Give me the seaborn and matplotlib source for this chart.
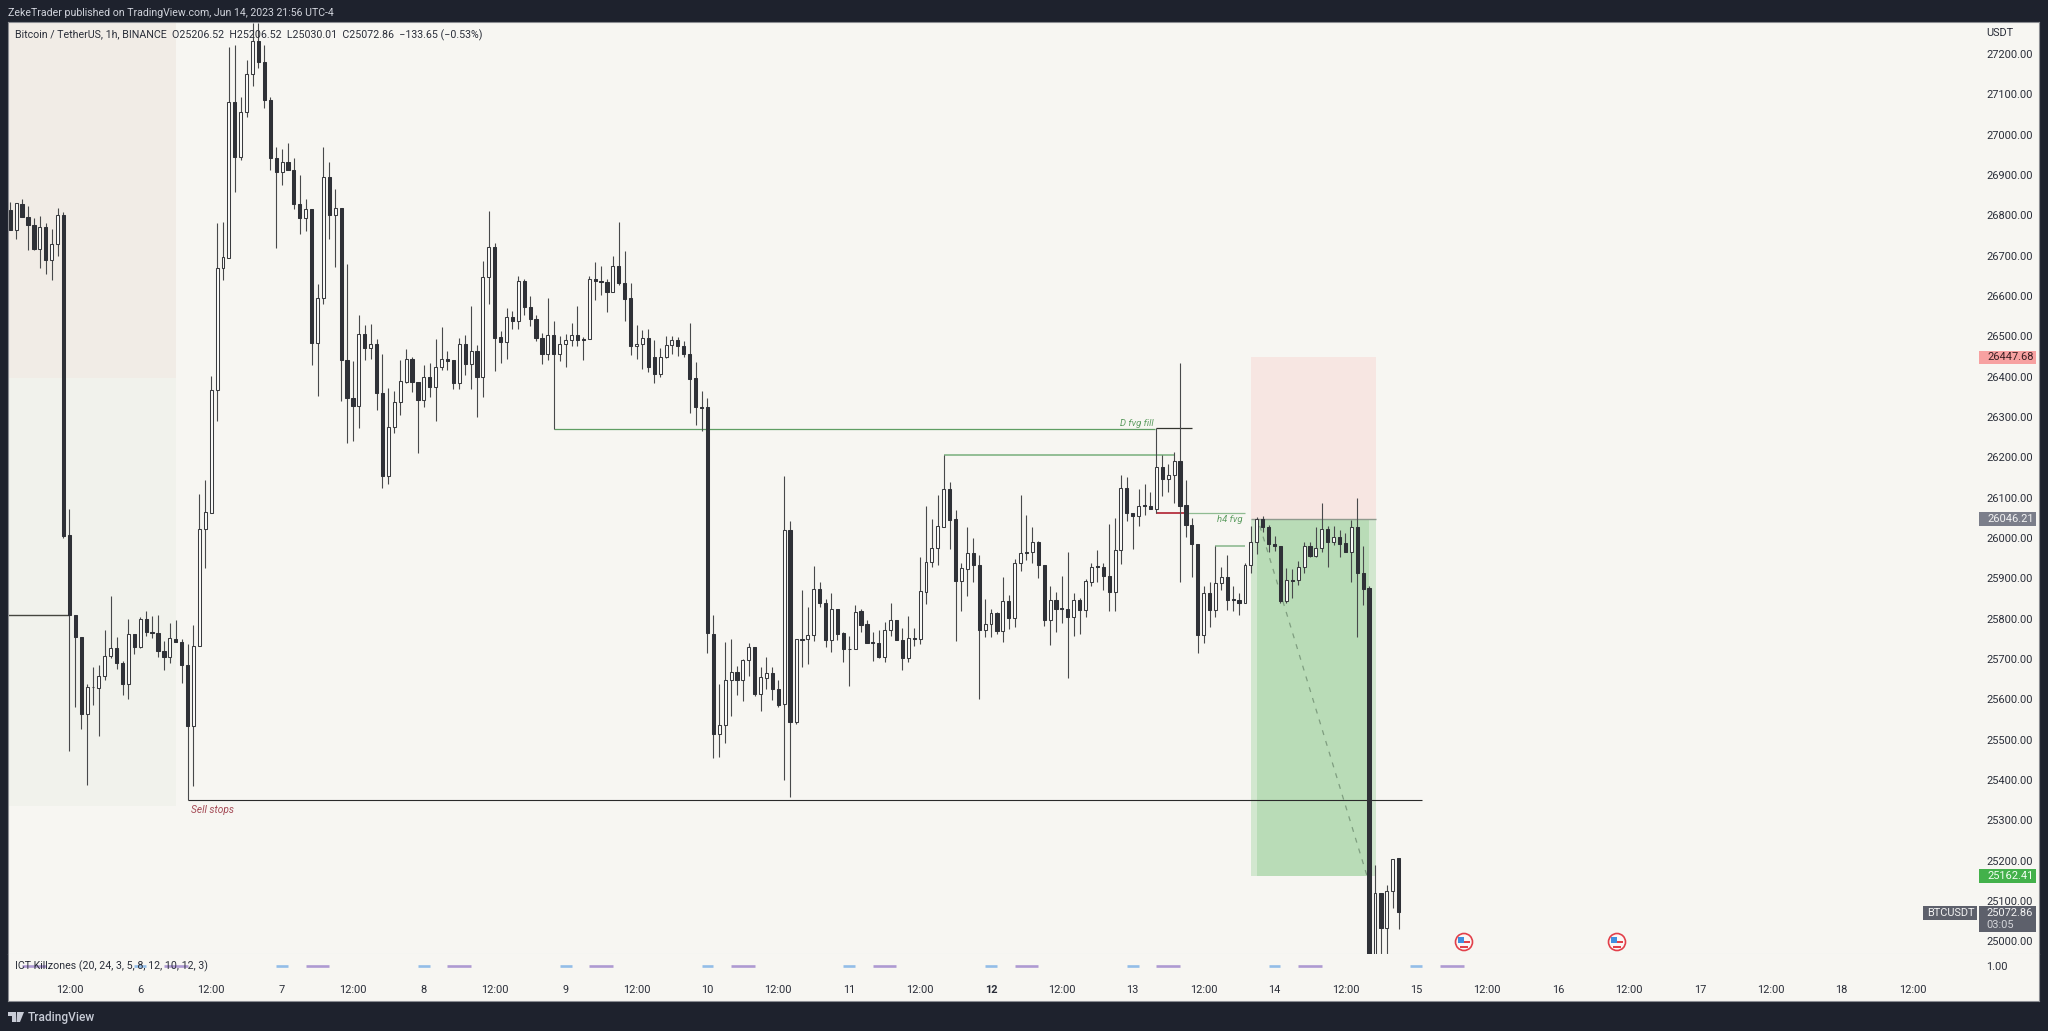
import numpy as np
import pandas as pd
import matplotlib
matplotlib.use("Agg")
import matplotlib.pyplot as plt
from matplotlib.patches import Rectangle, Circle, Polygon
import seaborn as sns

# hours counted from Jun 6 00:00, one candle per hour
hours = np.arange(-22, 214)

opens = [
    26814, 26763, 26829, 26796, 26776, 26716, 26772, 26690, 26728, 26801,
    26007, 25808, 25754, 25564, 25630, 25629, 25658, 25708, 25727, 25690,
    25639, 25763, 25729, 25798, 25768, 25764, 25721, 25706, 25750, 25742,
    25685, 25534, 25733, 26023, 26063, 26368, 26668, 26695, 27080, 26945,
    27055, 27151, 27231, 27179, 27085, 26942, 26908, 26932, 26911, 26828,
    26794, 26815, 26484, 26594, 26895, 26800, 26817, 26441, 26348, 26328,
    26505, 26472, 26480, 26360, 26153, 26276, 26338, 26387, 26443, 26386,
    26343, 26400, 26375, 26424, 26443, 26441, 26383, 26482, 26431, 26463,
    26400, 26647, 26721, 26497, 26485, 26548, 26538, 26637, 26573, 26542,
    26496, 26456, 26504, 26456, 26482, 26491, 26503, 26493, 26492, 26641,
    26638, 26635, 26609, 26674, 26633, 26594, 26476, 26481, 26495, 26448,
    26406, 26449, 26479, 26491, 26476, 26457, 26396, 26325, 26324, 25763,
    25514, 25536, 25649, 25668, 25649, 25697, 25730, 25613, 25654, 25666,
    25626, 25588, 26021, 25545, 25750, 25749, 25760, 25873, 25840, 25747,
    25824, 25765, 25726, 25725, 25818, 25786, 25741, 25740, 25704, 25773,
    25796, 25748, 25702, 25752, 25749, 25867, 25941, 25974, 26028, 26122,
    26046, 25894, 25924, 25963, 25934, 25772, 25788, 25813, 25770, 25843,
    25801, 25939, 25965, 25964, 25990, 25933, 25797, 25846, 25826, 25824,
    25803, 25846, 25822, 25892, 25930, 25929, 25905, 25867, 25970, 26124,
    26063, 26054, 26081, 26079, 26071, 26175, 26146, 26155, 26192, 26081,
    26032, 25985, 25759, 25863, 25821, 25888, 25903, 25848, 25847, 25838,
    25933, 25990, 26046, 26026, 25985, 25981, 25844, 25896, 25895, 25927,
    25981, 25956, 25975, 26022, 25989, 26002, 25987, 25964, 26026, 25914,
    25875, 24900, 25119, 25032, 25126, 25206.52,
]
closes = [
    26763, 26831, 26796, 26776, 26716, 26772, 26690, 26728, 26801, 26006,
    25809, 25754, 25564, 25630, 25631, 25658, 25708, 25728, 25689, 25639,
    25763, 25729, 25799, 25767, 25765, 25721, 25706, 25751, 25742, 25685,
    25534, 25733, 26023, 26065, 26368, 26668, 26697, 27080, 26945, 27055,
    27151, 27231, 27179, 27085, 26943, 26908, 26932, 26911, 26828, 26794,
    26815, 26484, 26595, 26895, 26800, 26817, 26441, 26348, 26328, 26505,
    26472, 26480, 26360, 26153, 26276, 26338, 26389, 26443, 26386, 26343,
    26400, 26375, 26424, 26443, 26439, 26383, 26482, 26431, 26463, 26400,
    26647, 26721, 26496, 26485, 26548, 26538, 26637, 26573, 26542, 26496,
    26456, 26504, 26456, 26482, 26491, 26502, 26491, 26491, 26641, 26638,
    26635, 26610, 26674, 26631, 26593, 26476, 26481, 26495, 26424, 26406,
    26449, 26479, 26491, 26476, 26457, 26395, 26324, 26323, 25764, 25514,
    25536, 25649, 25668, 25649, 25697, 25730, 25613, 25656, 25666, 25626,
    25586, 26021, 25545, 25749, 25748, 25760, 25873, 25839, 25747, 25824,
    25763, 25725, 25724, 25817, 25785, 25740, 25739, 25704, 25773, 25796,
    25748, 25702, 25752, 25749, 25868, 25941, 25974, 26029, 26122, 26044,
    25894, 25925, 25963, 25934, 25772, 25788, 25813, 25770, 25843, 25801,
    25939, 25963, 25963, 25990, 25932, 25797, 25846, 25824, 25824, 25803,
    25846, 25822, 25893, 25929, 25928, 25905, 25867, 25971, 26124, 26062,
    26054, 26080, 26079, 26071, 26175, 26147, 26156, 26192, 26080, 26031,
    25985, 25759, 25863, 25821, 25888, 25903, 25847, 25846, 25838, 25933,
    25990, 26047, 26026, 25985, 25980, 25844, 25895, 25894, 25927, 25981,
    25956, 25975, 26022, 25990, 26002, 25986, 25964, 26026, 25914, 25873,
    24900, 25119, 25032, 25126, 25204, 25072.86,
]
highs = [
    26834, 26831, 26840, 26824, 26792, 26799, 26782, 26765, 26817, 26809,
    26073, 25808, 25754, 25638, 25679, 25685, 25773, 25857, 25754, 25695,
    25800, 25763, 25805, 25820, 25806, 25808, 25744, 25790, 25797, 25749,
    25737, 25784, 26110, 26144, 26401, 26780, 26784, 27217, 27221, 27092,
    27186, 27277, 27277, 27221, 27092, 26968, 26964, 26980, 26942, 26899,
    26840, 26815, 26629, 26968, 26931, 26864, 26817, 26678, 26438, 26552,
    26528, 26530, 26492, 26456, 26372, 26364, 26441, 26469, 26448, 26386,
    26429, 26433, 26492, 26524, 26463, 26441, 26495, 26503, 26576, 26478,
    26686, 26810, 26732, 26514, 26571, 26563, 26649, 26643, 26600, 26552,
    26509, 26596, 26537, 26501, 26505, 26532, 26576, 26499, 26649, 26685,
    26675, 26642, 26699, 26783, 26711, 26633, 26529, 26515, 26517, 26491,
    26470, 26501, 26501, 26497, 26488, 26532, 26437, 26365, 26348, 25809,
    25638, 25743, 25749, 25683, 25701, 25739, 25730, 25679, 25706, 25679,
    25648, 26153, 26042, 25749, 25871, 25830, 25930, 25892, 25848, 25863,
    25824, 25768, 25758, 25835, 25823, 25797, 25766, 25772, 25792, 25840,
    25796, 25776, 25806, 25778, 25952, 26079, 26046, 26106, 26206, 26138,
    26069, 25937, 26028, 25999, 25958, 25848, 25823, 25817, 25904, 25858,
    25948, 26106, 26058, 26028, 25993, 25933, 25880, 25866, 25905, 25966,
    25863, 25851, 25899, 25939, 25971, 25938, 26034, 26049, 26156, 26152,
    26063, 26121, 26133, 26114, 26272, 26206, 26183, 26213, 26433, 26144,
    26049, 25985, 25880, 25892, 25979, 25928, 25958, 25880, 25863, 25938,
    26030, 26053, 26055, 26033, 26006, 25981, 25925, 25924, 25943, 25990,
    25990, 26028, 26086, 26030, 26030, 26020, 26012, 26045, 26098, 25979,
    25880, 25189, 25119, 25140, 25204, 25206.52,
]
lows = [
    26763, 26742, 26796, 26715, 26715, 26669, 26655, 26640, 26699, 26000,
    25471, 25580, 25526, 25388, 25586, 25509, 25647, 25702, 25676, 25612,
    25601, 25712, 25727, 25757, 25753, 25706, 25672, 25691, 25742, 25641,
    25351, 25385, 25733, 25926, 26063, 26291, 26639, 26695, 26858, 26938,
    27044, 27121, 27164, 27067, 26913, 26720, 26875, 26911, 26815, 26753,
    26761, 26429, 26352, 26581, 26742, 26671, 26340, 26236, 26241, 26273,
    26441, 26443, 26317, 26125, 26134, 26259, 26305, 26383, 26362, 26210,
    26325, 26350, 26291, 26416, 26416, 26369, 26369, 26404, 26369, 26299,
    26350, 26580, 26414, 26434, 26443, 26517, 26517, 26552, 26526, 26489,
    26431, 26441, 26269, 26438, 26424, 26476, 26476, 26441, 26492, 26590,
    26602, 26561, 26609, 26627, 26538, 26453, 26443, 26418, 26412, 26385,
    26398, 26445, 26456, 26452, 26449, 26311, 26280, 26266, 25714, 25455,
    25458, 25493, 25559, 25612, 25597, 25658, 25608, 25572, 25625, 25598,
    25582, 25400, 25357, 25540, 25679, 25687, 25745, 25830, 25730, 25718,
    25747, 25693, 25634, 25725, 25768, 25740, 25696, 25702, 25693, 25758,
    25748, 25673, 25693, 25732, 25737, 25836, 25929, 25933, 26028, 25972,
    25744, 25820, 25856, 25892, 25601, 25754, 25755, 25762, 25743, 25774,
    25780, 25919, 25945, 25938, 25900, 25781, 25735, 25766, 25789, 25654,
    25757, 25762, 25805, 25881, 25890, 25871, 25819, 25818, 25936, 26042,
    25973, 26030, 26056, 26071, 26062, 26105, 26113, 26086, 25892, 26002,
    25903, 25715, 25739, 25779, 25804, 25870, 25822, 25818, 25810, 25838,
    25913, 25961, 26014, 25966, 25968, 25838, 25840, 25851, 25884, 25913,
    25954, 25954, 25966, 25929, 25983, 25952, 25964, 25890, 25754, 25834,
    24880, 24880, 24900, 24900, 25084, 25030.01,
]

price_ticks = np.arange(25000, 27300, 100)
time_ticks = np.arange(-12, 301, 12)
time_labels = ["12:00", "6", "12:00", "7", "12:00", "8", "12:00", "9", "12:00", "10",
               "12:00", "11", "12:00", "12", "12:00", "13", "12:00", "14", "12:00", "15",
               "12:00", "16", "12:00", "17", "12:00", "18", "12:00"]

# ICT killzones, start and end hour
blue_starts = [-1, 23, 47, 71, 95, 119, 143, 167, 191, 215]
blue_ends = [1, 25, 49, 73, 97, 121, 145, 169, 193, 217]
purple_starts = [-20, 4, 28, 52, 76, 100, 124, 148, 172, 196, 220]
purple_ends = [-16, 8, 32, 56, 80, 104, 128, 152, 176, 200, 224]

# drawings: (hour from, hour to, price)
sell_stops = (8, 217, 25351)
left_level = (-22.4, -12, 25809)
d_fvg = (70, 171.7, 26270)
upper_fvg = (136, 175, 26206)
fill_level = (172, 178, 26272)
red_level = (172, 177, 26062)
h4_fvg = (177, 187, 26061)
low_fvg = (182, 187, 25979)

entry = 26046.21
stop = 26447.68
target = 25162.41
last_price = 25072.86

sns.set_theme(style="white")
plt.rcParams["font.family"] = ["Roboto", "DejaVu Sans"]

BG = "#f7f6f2"
DARK = "#1e222d"
CANDLE = "#2f3137"
TXT = "#2a2e39"
FS = 7.9

W, H = 2048, 1031
fig = plt.figure(figsize=(W / 100, H / 100), dpi=100, facecolor=DARK)

L, R, T, M, B = 8, 2039, 22, 953.5, 1001
ax = fig.add_axes([L / W, 1 - M / H, (R - L) / W, (M - T) / H], facecolor=BG)
ax2 = fig.add_axes([L / W, 1 - B / H, (R - L) / W, (B - M) / H], facecolor=BG)

# zones behind the candles
ax.add_patch(Rectangle((-22.4, 26396), 28.4, 883, fc="#f1ece6", ec="none", zorder=0))
ax.add_patch(Rectangle((-22.4, 25336), 28.4, 1060, fc="#f1f2ec", ec="none", zorder=0))
ax.add_patch(Rectangle((188, entry), 21.1, stop - entry, fc="#f7e6e2", ec="none", zorder=0))
ax.add_patch(Rectangle((188, target), 21.1, entry - target, fc="#d2e7cf", ec="none", zorder=0))
ax.add_patch(Rectangle((189, target), 19, entry - target, fc="#b9dcb7", ec="none", zorder=0.5))
ax.hlines(entry, 188, 209.1, color="#8f9a8e", lw=1, zorder=1)
sns.lineplot(x=[189.5, 207.6], y=[26030, 25165], color="#7f9e80", lw=0.9, ax=ax,
             linestyle=(0, (4, 5)), zorder=1)

# level lines
for level, col, lw in [(sell_stops, "#2a2a2a", 0.8), (left_level, "#45463f", 1.0),
                       (d_fvg, "#5f9e63", 0.9), (upper_fvg, "#82b585", 1.2),
                       (fill_level, "#33352f", 0.9), (red_level, "#b5303f", 1.3),
                       (h4_fvg, "#8fbb92", 0.9), (low_fvg, "#8fbb92", 1.2)]:
    ax.hlines(level[2], level[0], level[1], color=col, lw=lw, zorder=1.5)

candles = pd.DataFrame({"hour": hours, "open": opens, "high": highs, "low": lows, "close": closes})
candles["bottom"] = candles[["open", "close"]].min(axis=1)
candles["height"] = (candles["close"] - candles["open"]).abs()

# wicks, one low-high segment per candle
wicks = pd.concat([candles[["hour", "low"]].rename(columns={"low": "price"}),
                   candles[["hour", "high"]].rename(columns={"high": "price"})])
sns.lineplot(data=wicks, x="hour", y="price", units="hour", estimator=None, sort=False,
             color="#48494b", lw=0.8, ax=ax, solid_capstyle="butt", zorder=2)

up = candles[candles["close"] >= candles["open"]]
down = candles[candles["close"] < candles["open"]]
sns.barplot(data=up, x="hour", y="height", bottom=up["bottom"].values, native_scale=True,
            width=0.5, color="#fcfcfa", saturation=1, edgecolor="#3a3b3f", linewidth=0.75,
            errorbar=None, ax=ax, zorder=3)
sns.barplot(data=down, x="hour", y="height", bottom=down["bottom"].values, native_scale=True,
            width=0.55, color=CANDLE, saturation=1, edgecolor=CANDLE, linewidth=0.75,
            errorbar=None, ax=ax, zorder=3)

ax.set_xlim(-22.39, 321.4)
ax.set_ylim(24970, 27279)
ax.set_xlabel("")
ax.set_ylabel("")
ax.set_xticks([])
ax.set_yticks(price_ticks)
ax.set_yticklabels([f"{p:.2f}" for p in price_ticks], fontsize=FS, color=TXT, ha="left")
ax.yaxis.tick_right()
ax.tick_params(axis="y", length=0, pad=-38)

# killzones pane
zones = pd.DataFrame({
    "hour": blue_starts + blue_ends + purple_starts + purple_ends,
    "level": 1.0,
    "zone": ["b%d" % i for i in range(len(blue_starts))] * 2
            + ["p%d" % i for i in range(len(purple_starts))] * 2,
    "kind": ["blue"] * (2 * len(blue_starts)) + ["purple"] * (2 * len(purple_starts)),
})
sns.lineplot(data=zones, x="hour", y="level", hue="kind", units="zone", estimator=None,
             sort=False, palette={"blue": "#93bde8", "purple": "#ae9ad2"}, lw=1.9,
             solid_capstyle="butt", legend=False, ax=ax2)
ax2.set_xlim(-22.39, 321.4)
ax2.set_ylim(0, 1.357)
ax2.set_xlabel("")
ax2.set_ylabel("")
ax2.set_yticks([1.0])
ax2.set_yticklabels(["1.00"], fontsize=FS, color=TXT, ha="left")
ax2.yaxis.tick_right()
ax2.tick_params(axis="y", length=0, pad=-38)
ax2.set_xticks(time_ticks)
ax2.set_xticklabels(time_labels, fontsize=FS, color=TXT)
ax2.tick_params(axis="x", length=0, pad=-11.5)
ax2.get_xticklabels()[13].set_fontweight("bold")

for a in (ax, ax2):
    for s in a.spines.values():
        s.set_color("#8b8d92")
        s.set_linewidth(0.8)
ax.spines["bottom"].set_color("#e4e4e2")
ax2.spines["top"].set_visible(False)

# price scale labels
yt = ax.get_yaxis_transform()
for price, face, col, txt in [(stop, "#f7a1a1", "#3a1f22", "26447.68"),
                              (entry, "#7b7e8a", "#f2f2f2", "26046.21"),
                              (target, "#43b14b", "#f2fff2", "25162.41")]:
    ax.add_patch(Rectangle((0.9703, price - 17), 0.0283, 34, transform=yt, fc=face, ec="none",
                           zorder=5, clip_on=False))
    ax.text(0.9745, price, txt, transform=yt, fontsize=FS, color=col, va="center", ha="left",
            zorder=6)

# pixel overlay for the frame texts
ov = fig.add_axes([0, 0, 1, 1], facecolor="none")
ov.set_xlim(0, W)
ov.set_ylim(H, 0)
ov.axis("off")


def box(x0, y0, x1, y1, fc):
    ov.add_patch(Rectangle((x0, y0), x1 - x0, y1 - y0, fc=fc, ec="none"))


box(1979, 906, 2036, 932, "#5d606b")
box(1923, 906, 1977, 920, "#5d606b")
ov.text(1986, 913, f"{last_price:.2f}", fontsize=FS, color="#f2f2f2", va="center")
ov.text(1986, 925, "03:05", fontsize=FS, color="#d5d6da", va="center")
ov.text(1927, 913, "BTCUSDT", fontsize=FS, color="#f2f2f2", va="center")
ov.text(1986, 33, "USDT", fontsize=FS, color=TXT, va="center")

ov.text(8, 13, "ZekeTrader published on TradingView.com, Jun 14, 2023 21:56 UTC-4",
        fontsize=7.6, color="#d1d4dc", va="center")
ov.text(15, 35, "Bitcoin / TetherUS, 1h, BINANCE  O25206.52  H25206.52  L25030.01  C25072.86  \u2212133.65 (\u22120.53%)",
        fontsize=7.65, color=TXT, va="center")
ov.text(15, 966, "ICT Killzones (20, 24, 3, 5, 8, 12, 10, 12, 3)", fontsize=7.65, color=TXT, va="center")
ov.text(191, 810, "Sell stops", fontsize=7.3, style="italic", color="#a44a55", va="center")
ov.text(1120, 423, "D fvg fill", fontsize=6.8, style="italic", color="#5f9e63", va="center")
ov.text(1217, 520, "h4 fvg", fontsize=6.8, style="italic", color="#5f9e63", va="center")
ov.text(28, 1017, "TradingView", fontsize=8.6, color="#c8ccd6", va="center", fontweight="medium")

# TradingView mark
ov.add_patch(Polygon([(8, 1012), (16, 1012), (16, 1022), (12, 1022), (12, 1016), (8, 1016)], fc="#c8ccd6", ec="none"))
ov.add_patch(Polygon([(17, 1012), (24, 1012), (20, 1022), (16.5, 1022)], fc="#c8ccd6", ec="none"))

# economic calendar flags
for fx in (1464, 1617):
    ov.add_patch(Circle((fx, 942), 8.5, fc="#fbf7f5", ec="#e2404a", lw=1.2))
    ov.add_patch(Rectangle((fx - 6, 937), 6, 6, fc="#3f8fe0", ec="none"))
    ov.add_patch(Rectangle((fx, 941), 6, 2, fc="#e2404a", ec="none"))
    ov.add_patch(Rectangle((fx - 4, 946), 8, 1.5, fc="#e2404a", ec="none"))

fig.savefig("out.png", dpi=100, facecolor=DARK)
